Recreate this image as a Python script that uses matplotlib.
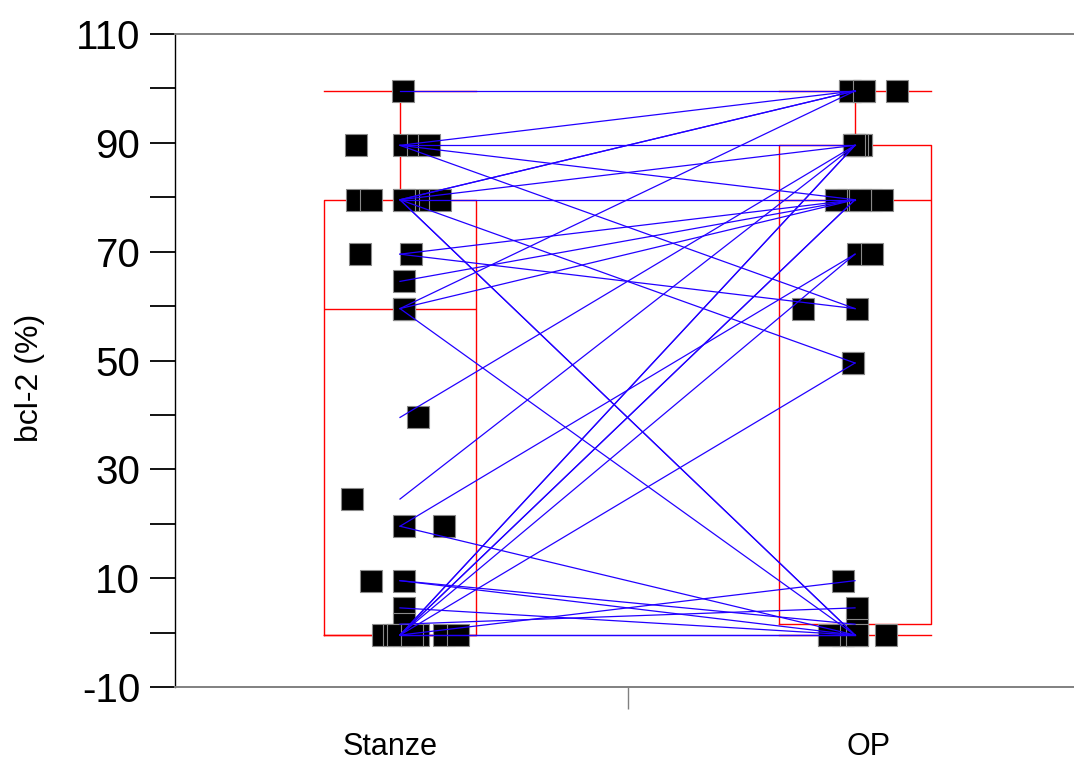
import numpy as np
import matplotlib
matplotlib.use('Agg')
import matplotlib.pyplot as plt
import matplotlib.transforms as mtransforms

# ---------------- data ----------------
categories = ['Stanze', 'OP']

# paired values: stanze[i] -> op[i]
stanze = [100, 90, 90, 90, 90, 80, 80, 80, 80, 80, 80, 80, 70, 70, 65, 60, 60, 60,
          40, 25, 20, 20, 10, 10, 5, 2, 0, 0, 0, 0, 0, 0, 0, 0, 0]
op = [100, 100, 90, 80, 60, 100, 100, 90, 80, 50, 0, 0, 80, 60, 80, 100, 80, 0,
      90, 90, 70, 0, 2, 0, 0, 5, 90, 90, 80, 80, 70, 50, 10, 0, 0]

# horizontal jitter of the plotted squares (pixels from category centre)
stanze_jitter_px = [3, -44, 4, 18, 29, -43, -29, 4, 18, 30, 40, 4, -40, 11, 4, 4, 4, 4,
                    18, -48, 4, 44, -29, 4, 4, 4, -17, -6, 4, 10, 18, 44, 58, -2, 12]
op_jitter_px = [-5, 9, -1, -19, -52, 42, -5, 6, 5, -2, -26, -12, 16, 2, 27, 9, -7, 2,
                6, -1, 3, 31, 2, 2, -12, 2, 2, -1, -19, 5, 17, -2, -12, -26, 2]

y_major = [-10, 10, 30, 50, 70, 90, 110]
y_minor = [0, 20, 40, 60, 80, 100]
y_label = 'bcl-2 (%)'

# ---------------- style ----------------
plt.rcParams['font.family'] = ['Liberation Sans', 'DejaVu Sans']

W, H = 1074, 762
PX = 455.0            # pixels between category centres
AX_L, AX_T, AX_B = 175, 34, 687
RED = '#ff0000'
BLUE = '#2200ff'

fig = plt.figure(figsize=(W / 100, H / 100), dpi=100)
ax = fig.add_axes([AX_L / W, (H - AX_B) / H, (W - AX_L) / W, (AX_B - AX_T) / H])

x_left = -225 / PX
ax.set_xlim(x_left, x_left + (W - AX_L) / PX)
ax.set_ylim(-10, 110)

# the original plot draws its marks ~2.5 px below the tick grid
data_tr = ax.transData + mtransforms.ScaledTranslation(0, -2.5 / 100, fig.dpi_scale_trans)


def box_stats(vals):
    v = np.asarray(vals, float)
    q1, med, q3 = np.percentile(v, [25, 50, 75], method='weibull')
    iqr = q3 - q1
    lo = v[v >= q1 - 1.5 * iqr].min()
    hi = v[v <= q3 + 1.5 * iqr].max()
    return dict(med=med, q1=q1, q3=q3, whislo=lo, whishi=hi, fliers=[])


stats = [box_stats(stanze), box_stats(op)]
lp = dict(color=RED, linewidth=1.0)
bp = ax.bxp(stats, positions=[0, 1], widths=0.333, capwidths=0.333, showfliers=False,
            boxprops=lp, whiskerprops=lp, capprops=lp, medianprops=lp,
            manage_ticks=False, zorder=1)
for key in ('boxes', 'whiskers', 'caps', 'medians'):
    for art in bp[key]:
        art.set_transform(data_tr)

# squares
xs = np.zeros(len(stanze)) + np.asarray(stanze_jitter_px) / PX
xo = np.ones(len(op)) + np.asarray(op_jitter_px) / PX
mk = dict(linestyle='none', marker='s', markersize=15.8, markerfacecolor='black',
          markeredgecolor='#8a8a8a', markeredgewidth=0.8, zorder=2, transform=data_tr)
ax.plot(xs, stanze, **mk)
ax.plot(xo, op, **mk)

# connecting lines between paired values (category centres)
for s, o in zip(stanze, op):
    ax.plot([0, 1], [s, o], color=BLUE, linewidth=0.9, zorder=3, transform=data_tr)

# spines
ax.spines['right'].set_visible(False)
ax.spines['left'].set_color('black')
ax.spines['left'].set_linewidth(1.0)
for s in ('top', 'bottom'):
    ax.spines[s].set_color('#808080')
    ax.spines[s].set_linewidth(1.4)

# y ticks
ax.set_yticks(y_major)
ax.set_yticklabels([str(v) for v in y_major])
ax.set_yticks(y_minor, minor=True)
ax.tick_params(axis='y', which='both', length=18, width=1.3, direction='out',
               color='black', labelsize=29, pad=7)

# x: single separator tick between categories
ax.set_xticks([0.5])
ax.set_xticklabels([''])
ax.tick_params(axis='x', which='major', length=16, width=1.0, color='#808080',
               direction='out')

trans = mtransforms.blended_transform_factory(ax.transData, ax.transAxes)
label_dx = [-10 / PX, 14 / PX]
for i, c in enumerate(categories):
    ax.text(i + label_dx[i], (AX_B - 755) / (AX_B - AX_T), c, transform=trans,
            ha='center', va='baseline', fontsize=22)

fig.text(30 / W, 1 - 378 / H, y_label, rotation=90, ha='center', va='center',
         fontsize=23)

fig.savefig('out.png', dpi=100)
